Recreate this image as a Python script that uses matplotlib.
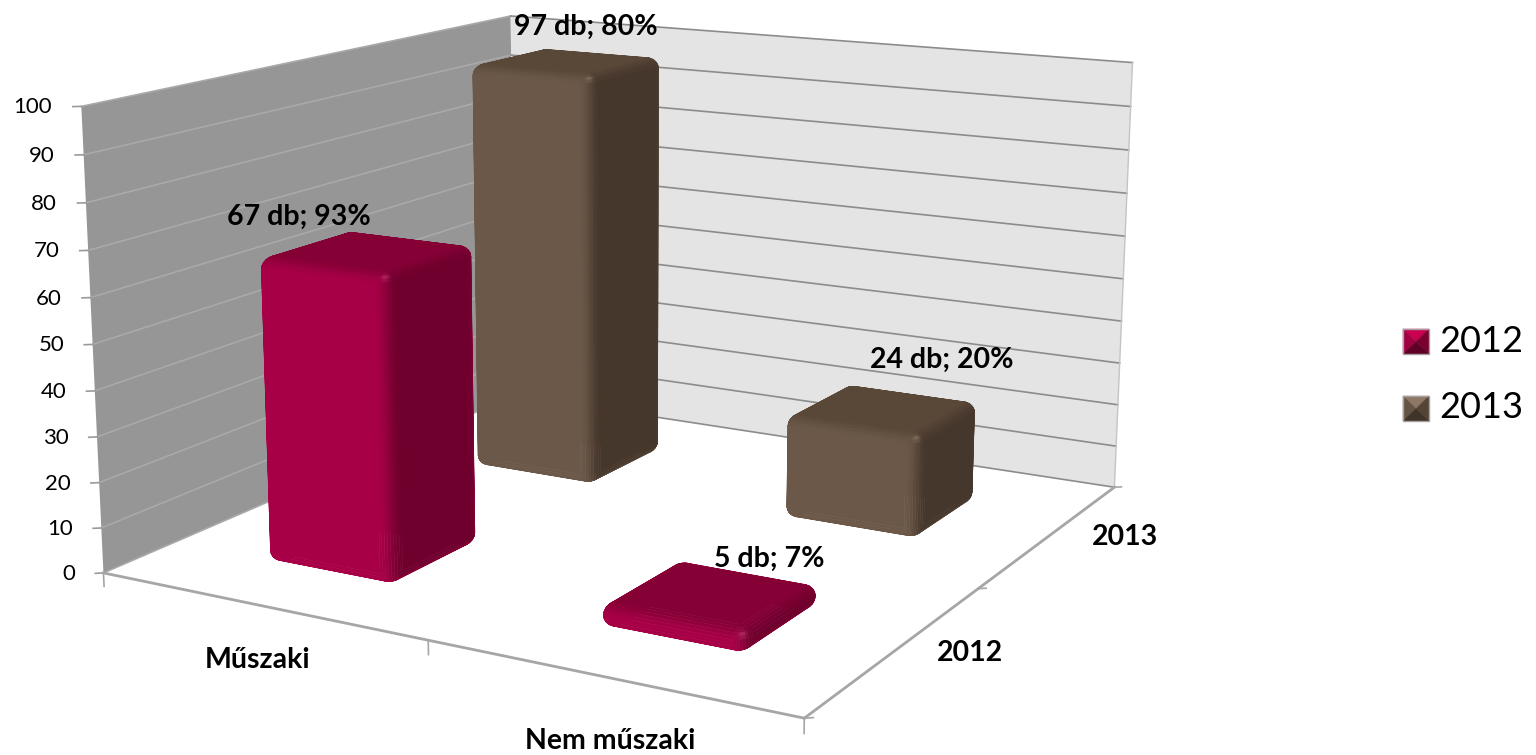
import numpy as np
import matplotlib
matplotlib.use('Agg')
import matplotlib.pyplot as plt
from matplotlib.patches import Polygon
from mpl_toolkits.mplot3d.art3d import Poly3DCollection

plt.rcParams['font.family'] = ['Lato', 'DejaVu Sans']

W, H = 1536, 755

categories = ['Műszaki', 'Nem műszaki']
years = ['2012', '2013']
values_2012 = [67, 5]
values_2013 = [97, 24]
labels_2012 = ['67 db; 93%', '5 db; 7%']
labels_2013 = ['97 db; 80%', '24 db; 20%']
z_ticks = list(range(0, 101, 10))

shades_2012 = {'front': '#a80046', 'top': '#850035', 'side': '#6f002d'}
shades_2013 = {'front': '#6b5848', 'top': '#594738', 'side': '#46372c'}

BAR_X = 0.31
BAR_Y = 0.27
BAR_W = 0.40
BAR_D = 0.42


def to_rgb(c):
    return np.array(matplotlib.colors.to_rgb(c))


def shade(n, colors):
    nx, ny, nz = n / np.linalg.norm(n)
    wf = ny ** 2 + max(-nx, 0) ** 2 + max(-nz, 0) ** 2
    ws = max(nx, 0) ** 2
    wt = max(nz, 0) ** 2
    c = wf * to_rgb(colors['front']) + ws * to_rgb(colors['side']) + wt * to_rgb(colors['top'])
    h = np.array([0.58, -0.58, 0.58])
    spec = max(np.dot([nx, ny, nz], h), 0) ** 30
    return np.clip(c + 0.12 * spec, 0, 1)


# excel style bar with rounded edges, built from small facets
def rounded_box(ax, x0, y0, w, d, h, colors, zorder):
    rx, ry = 0.035, 0.05
    rz = min(2.6, h / 2)
    outline = []
    corners = [(x0 + w - rx, y0 + ry, -90), (x0 + w - rx, y0 + d - ry, 0),
               (x0 + rx, y0 + d - ry, 90), (x0 + rx, y0 + ry, 180)]
    for cx, cy, a0 in corners:
        for a in np.radians(a0 + np.linspace(0, 90, 9)):
            outline.append((cx, cy, np.cos(a), np.sin(a)))
    rings = []
    for phi in np.radians(np.linspace(-90, 0, 7)):
        rings.append((np.cos(phi), rz + rz * np.sin(phi), np.sin(phi)))
    for phi in np.radians(np.linspace(0, 90, 7)):
        rings.append((np.cos(phi), h - rz + rz * np.sin(phi), np.sin(phi)))

    polys, cols = [], []
    n = len(outline)
    for k in range(len(rings) - 1):
        c1, z1, s1 = rings[k]
        c2, z2, s2 = rings[k + 1]
        for i in range(n):
            a = outline[i]
            b = outline[(i + 1) % n]
            polys.append([(a[0] + rx * a[2] * c1, a[1] + ry * a[3] * c1, z1),
                          (b[0] + rx * b[2] * c1, b[1] + ry * b[3] * c1, z1),
                          (b[0] + rx * b[2] * c2, b[1] + ry * b[3] * c2, z2),
                          (a[0] + rx * a[2] * c2, a[1] + ry * a[3] * c2, z2)])
            mid = np.array([(a[2] + b[2]) / 2 * (c1 + c2) / 2, (a[3] + b[3]) / 2 * (c1 + c2) / 2, (s1 + s2) / 2])
            cols.append(shade(mid, colors))
    polys.append([(p[0], p[1], h) for p in outline])
    cols.append(to_rgb(colors['top']))
    coll = Poly3DCollection(polys, facecolors=cols, edgecolors=cols, linewidths=0.4, zorder=zorder, zsort='average')
    ax.add_collection3d(coll)


def px_text(x, y, s, **kw):
    fig.text(x / W, 1 - y / H, s, ha='center', va='center', **kw)


fig = plt.figure(figsize=(W / 100, H / 100), dpi=100)
side = 6120.9 * 0.19 * 0.968
ax = fig.add_axes([(618.4 - side / 2) / W, (H - 325.2 - side / 2) / H, side / W, side / H], projection='3d')
ax.set_proj_type('persp', focal_length=0.4507)
ax.view_init(elev=13.47, azim=-60.42)
ax.set_box_aspect((1.653, 1.645, 1))
ax.computed_zorder = False
ax.set_axis_off()

# walls
left_wall = [[(0, 0, 0), (0, 2, 0), (0, 2, 100), (0, 0, 100)]]
right_wall = [[(0, 2, 0), (2, 2, 0), (2, 2, 100), (0, 2, 100)]]
ax.add_collection3d(Poly3DCollection(left_wall, facecolors='#969696', edgecolors='none', zorder=1))
ax.add_collection3d(Poly3DCollection(right_wall, facecolors='#e4e4e4', edgecolors='none', zorder=1))
for z in z_ticks:
    ax.plot([0, 0], [0, 2], [z, z], color='#a9a9a9', lw=1.2, zorder=2)
    ax.plot([0, 2], [2, 2], [z, z], color='#8c8c8c', lw=1.2, zorder=2)
    ax.plot([0, -0.016], [0, -0.013], [z, z], color='#9a9a9a', lw=1.2, zorder=3)
    ax.text(-0.055, -0.044, z, str(z), ha='right', va='center', fontsize=16, color='black', zorder=30)
ax.plot([2, 2], [2, 2], [0, 100], color='#c4c4c4', lw=1, zorder=2)

# floor edges
ax.plot([0, 2], [0, 0], [0, 0], color='#a6a6a6', lw=2, zorder=3)
ax.plot([2, 2], [0, 2], [0, 0], color='#a6a6a6', lw=2, zorder=3)
for i in range(3):
    ax.plot([i, i], [0, 0], [0, -3], color='#a6a6a6', lw=1.2, zorder=3)
    ax.plot([2, 2.016], [i, i + 0.013], [0, 0], color='#a6a6a6', lw=1.2, zorder=3)

order = [(1, values_2013[1], shades_2013, 1), (0, values_2013[0], shades_2013, 1),
         (1, values_2012[1], shades_2012, 0), (0, values_2012[0], shades_2012, 0)]
for n, (i, v, c, j) in enumerate(order):
    rounded_box(ax, i + BAR_X, j + BAR_Y, BAR_W, BAR_D, v, c, 5 + n)

ax.set_xlim(0, 2)
ax.set_ylim(0, 2)
ax.set_zlim(0, 100)

lab_kw = dict(fontsize=20.5, fontweight='bold', color='black', zorder=40)
px_text(299, 217, labels_2012[0], **lab_kw)
px_text(769, 559, labels_2012[1], **lab_kw)
px_text(586, 27, labels_2013[0], **lab_kw)
px_text(942, 360, labels_2013[1], **lab_kw)
px_text(258, 660, categories[0], **lab_kw)
px_text(610, 741, categories[1], **lab_kw)
px_text(970, 653, years[0], **lab_kw)
px_text(1125, 537, years[1], **lab_kw)

# legend
legend_cols = [('#c8004f', '#a00042', '#7a0030', '#5f0026'), ('#8d7866', '#655343', '#544435', '#403328')]
for (top, left, right, bottom), yr, y0 in zip(legend_cols, years, (329, 396)):
    x0, x1, y1 = 1403, 1429, y0 + 25
    xc, yc = (x0 + x1) / 2, (y0 + y1) / 2
    tris = [((x0, y0), (x1, y0), top), ((x0, y0), (x0, y1), left), ((x1, y0), (x1, y1), right), ((x0, y1), (x1, y1), bottom)]
    for a, b, col in tris:
        xy = [(a[0] / W, 1 - a[1] / H), (b[0] / W, 1 - b[1] / H), (xc / W, 1 - yc / H)]
        fig.add_artist(Polygon(xy, closed=True, transform=fig.transFigure, facecolor=col, edgecolor=col, lw=0.3))
    fig.add_artist(Polygon([(x0 / W, 1 - y0 / H), (x1 / W, 1 - y0 / H), (x1 / W, 1 - y1 / H), (x0 / W, 1 - y1 / H)],
                           closed=True, transform=fig.transFigure, fill=False, edgecolor='#a8a0a0', lw=1))
    px_text(1481, y0 + 12, yr, fontsize=26, color='black')

fig.savefig('out.png', dpi=100)
